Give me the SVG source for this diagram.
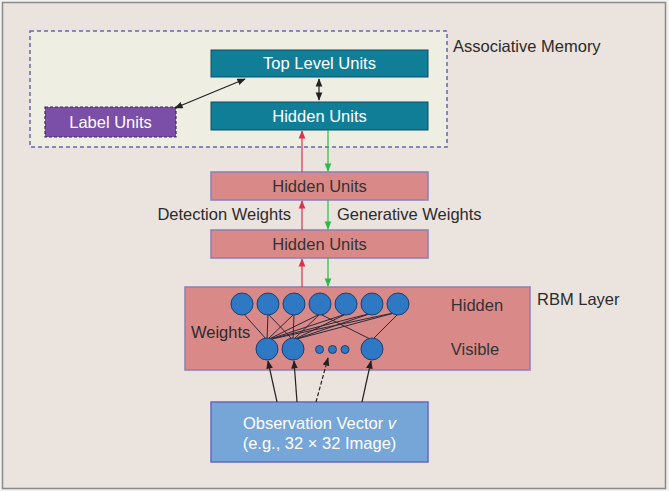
<svg xmlns="http://www.w3.org/2000/svg" width="669" height="491" viewBox="0 0 669 491">
<defs>
<style>
text{font-family:"Liberation Sans",Arial,sans-serif;font-size:16.5px;}
.lbl{fill:#2b2b2b;}
.wt{fill:#ffffff;text-anchor:middle;}
.dk{fill:#333333;text-anchor:middle;}
.teal{fill:#117e98;stroke:#0d4f60;stroke-width:1;}
.pink{fill:#d98a88;stroke:#8a7fb8;stroke-width:1.5;}
.hc{fill:#2f78c4;stroke:#1d3f6e;stroke-width:1;}
.w{stroke:#2a2a3a;stroke-width:1;fill:none;}
</style>
<marker id="ak" viewBox="0 0 10 10" refX="9" refY="5" markerWidth="7" markerHeight="7" orient="auto-start-reverse"><path d="M0,1 L10,5 L0,9 z" fill="#222"/></marker>
<marker id="ar" viewBox="0 0 10 10" refX="9" refY="5" markerWidth="7" markerHeight="7" orient="auto"><path d="M0,1 L10,5 L0,9 z" fill="#e0304a"/></marker>
<marker id="ag" viewBox="0 0 10 10" refX="9" refY="5" markerWidth="7" markerHeight="7" orient="auto"><path d="M0,1 L10,5 L0,9 z" fill="#2fb84a"/></marker>
</defs>
<rect x="0" y="0" width="669" height="491" fill="#f2f0ee"/>
<rect x="2.5" y="2.5" width="663" height="486" fill="#ebe3dd" stroke="#8a8a8a" stroke-width="1.5"/>

<g id="associative-memory">
<rect x="30" y="31" width="417" height="116" fill="#efeee3" stroke="#6a66b4" stroke-width="1.5" stroke-dasharray="4,3"/>
<text class="lbl" x="453" y="52">Associative Memory</text>
</g>

<g id="top-level-units">
<rect class="teal" x="211" y="50" width="217" height="27"/>
<text class="wt" x="319.5" y="69">Top Level Units</text>
</g>
<g id="hidden-units-top">
<rect class="teal" x="211" y="102" width="217" height="28"/>
<text class="wt" x="319.5" y="121.5">Hidden Units</text>
</g>
<g id="label-units">
<rect x="45" y="107" width="131" height="30" fill="#7b4ea8" stroke="#3f2560" stroke-width="1.2" stroke-dasharray="3,2"/>
<text class="wt" x="110.5" y="127.5">Label Units</text>
</g>

<g id="hidden-units-1">
<rect class="pink" x="211" y="172" width="217" height="28"/>
<text class="dk" x="319.5" y="192">Hidden Units</text>
</g>
<g id="hidden-units-2">
<rect class="pink" x="211" y="230" width="217" height="28"/>
<text class="dk" x="319.5" y="250">Hidden Units</text>
</g>
<text class="lbl" x="291" y="220" text-anchor="end">Detection Weights</text>
<text class="lbl" x="337" y="220">Generative Weights</text>

<g id="rbm-layer">
<rect class="pink" x="185" y="287" width="345" height="83"/>
<text class="lbl" x="537" y="305">RBM Layer</text>
<text class="dk" x="477" y="311">Hidden</text>
<text class="dk" x="475" y="355">Visible</text>
<text class="lbl" x="191" y="338">Weights</text>
<g id="rbm-weights">
<line class="w" x1="267" y1="340" x2="242" y2="312"/>
<line class="w" x1="267" y1="340" x2="268" y2="314"/>
<line class="w" x1="267" y1="340" x2="294" y2="314"/>
<line class="w" x1="267" y1="340" x2="320" y2="314"/>
<line class="w" x1="267" y1="340" x2="346" y2="314"/>
<line class="w" x1="267" y1="340" x2="372" y2="313"/>
<line class="w" x1="267" y1="340" x2="398" y2="312"/>
<line class="w" x1="293" y1="340" x2="268" y2="314"/>
<line class="w" x1="293" y1="340" x2="294" y2="314"/>
<line class="w" x1="293" y1="340" x2="320" y2="314"/>
<line class="w" x1="293" y1="340" x2="346" y2="314"/>
<line class="w" x1="293" y1="340" x2="372" y2="313"/>
<line class="w" x1="293" y1="340" x2="398" y2="312"/>
<line class="w" x1="372" y1="340" x2="320" y2="314"/>
<line class="w" x1="372" y1="340" x2="398" y2="314"/>
</g>
<g id="rbm-hidden">
<circle class="hc" cx="242" cy="304" r="11"/>
<circle class="hc" cx="268" cy="304" r="11"/>
<circle class="hc" cx="294" cy="304" r="11"/>
<circle class="hc" cx="320" cy="304" r="11"/>
<circle class="hc" cx="346" cy="304" r="11"/>
<circle class="hc" cx="372" cy="304" r="11"/>
<circle class="hc" cx="398" cy="304" r="11"/>
</g>
<g id="rbm-visible">
<circle class="hc" cx="267" cy="349" r="11"/>
<circle class="hc" cx="293" cy="349" r="11"/>
<circle class="hc" cx="319.5" cy="349.5" r="4"/>
<circle class="hc" cx="332.5" cy="349.5" r="4"/>
<circle class="hc" cx="345" cy="349.5" r="4"/>
<circle class="hc" cx="372" cy="349" r="11"/>
</g>
</g>

<g id="observation-vector">
<rect x="211" y="402" width="217" height="60" fill="#76a5d8" stroke="#6767c2" stroke-width="1.5"/>
<text class="wt" x="319.5" y="429">Observation Vector <tspan font-style="italic">v</tspan></text>
<text class="wt" x="319.5" y="449">(e.g., 32 × 32 Image)</text>
</g>

<g id="connectors">
<line x1="175" y1="108" x2="245" y2="79" stroke="#222" stroke-width="1.2" marker-start="url(#ak)" marker-end="url(#ak)"/>
<line x1="319" y1="79" x2="319" y2="100" stroke="#222" stroke-width="1.2" marker-start="url(#ak)" marker-end="url(#ak)"/>
<line x1="302" y1="172" x2="302" y2="131" stroke="#e0304a" stroke-width="1.2" marker-end="url(#ar)"/>
<line x1="328" y1="130" x2="328" y2="171" stroke="#2fb84a" stroke-width="1.2" marker-end="url(#ag)"/>
<line x1="302" y1="230" x2="302" y2="201" stroke="#e0304a" stroke-width="1.2" marker-end="url(#ar)"/>
<line x1="328" y1="200" x2="328" y2="229" stroke="#2fb84a" stroke-width="1.2" marker-end="url(#ag)"/>
<line x1="302" y1="287" x2="302" y2="259" stroke="#e0304a" stroke-width="1.2" marker-end="url(#ar)"/>
<line x1="328" y1="258" x2="328" y2="286" stroke="#2fb84a" stroke-width="1.2" marker-end="url(#ag)"/>
<line x1="277" y1="402" x2="268" y2="361" stroke="#222" stroke-width="1.2" marker-end="url(#ak)"/>
<line x1="297" y1="402" x2="294" y2="361" stroke="#222" stroke-width="1.2" marker-end="url(#ak)"/>
<line x1="316" y1="402" x2="328" y2="358" stroke="#222" stroke-width="1.2" stroke-dasharray="4,2" marker-end="url(#ak)"/>
<line x1="362" y1="402" x2="371" y2="361" stroke="#222" stroke-width="1.2" marker-end="url(#ak)"/>
</g>
</svg>
